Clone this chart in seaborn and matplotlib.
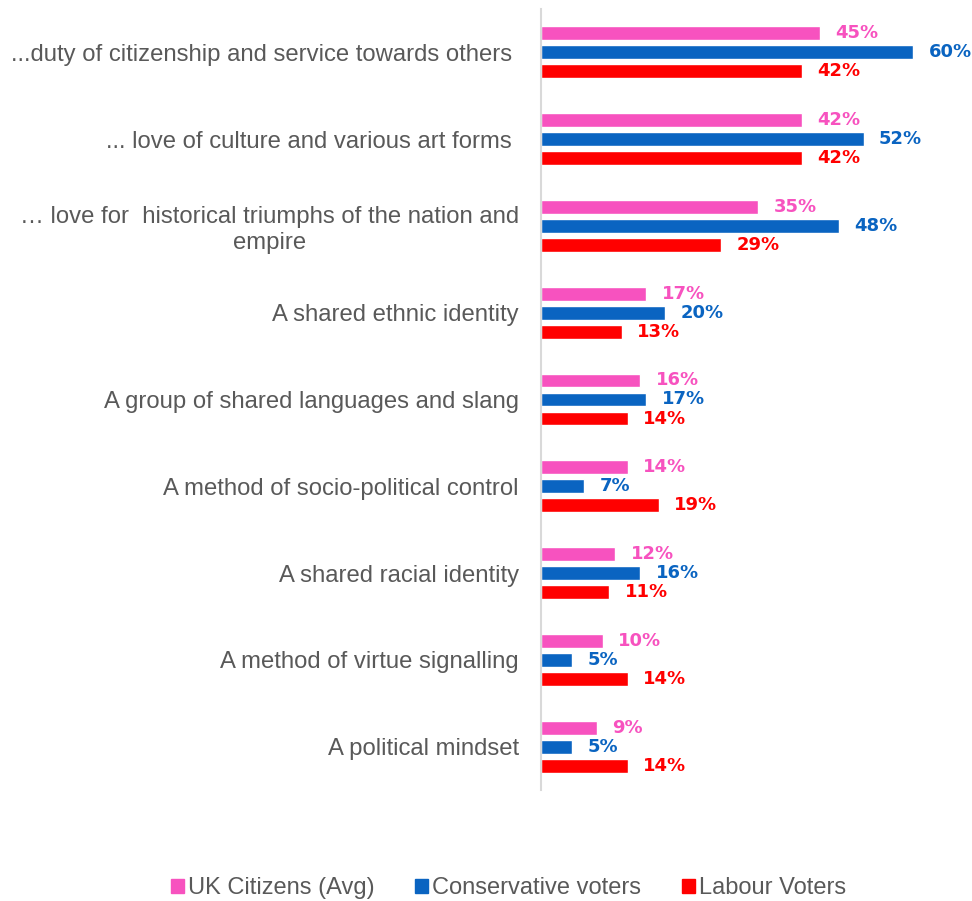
import matplotlib
matplotlib.use("Agg")
import matplotlib.pyplot as plt
import matplotlib.patches as mpatches
import seaborn as sns
import pandas as pd

categories = [
    "...duty of citizenship and service towards others ",
    "... love of culture and various art forms ",
    "\u2026 love for  historical triumphs of the nation and\nempire",
    "A shared ethnic identity",
    "A group of shared languages and slang",
    "A method of socio-political control",
    "A shared racial identity",
    "A method of virtue signalling",
    "A political mindset",
]
series_names = ["UK Citizens (Avg)", "Conservative voters", "Labour Voters"]
uk_avg = [45, 42, 35, 17, 16, 14, 12, 10, 9]
conservative = [60, 52, 48, 20, 17, 7, 16, 5, 5]
labour = [42, 42, 29, 13, 14, 19, 11, 14, 14]
colors = ["#F752BF", "#0A64C1", "#FF0000"]

rows = []
for name, vals in zip(series_names, [uk_avg, conservative, labour]):
    for cat, v in zip(categories, vals):
        rows.append({"category": cat, "series": name, "value": v})
df = pd.DataFrame(rows)

sns.set_style("white")
plt.rcParams["font.family"] = ["Liberation Sans", "DejaVu Sans"]

fig = plt.figure(figsize=(9.72, 9.01), dpi=100)
ax = fig.add_axes([541 / 972, 1 - 790 / 901, 428 / 972, 781 / 901])

sns.barplot(
    data=df, y="category", x="value", hue="series", order=categories,
    hue_order=series_names, palette=colors, orient="h", width=0.657,
    gap=0.27, saturation=1, legend=False, ax=ax, errorbar=None,
)

ax.set_xlim(0, 69)
ax.set_xlabel("")
ax.set_ylabel("")
ax.set_xticks([])
for side in ["top", "right", "bottom"]:
    ax.spines[side].set_visible(False)
ax.spines["left"].set_color("#D9D9D9")
ax.spines["left"].set_linewidth(1.5)

ax.tick_params(axis="y", length=0, pad=16)
for lbl in ax.get_yticklabels():
    lbl.set_fontsize(17.2)
    lbl.set_color("#595959")
    lbl.set_multialignment("center")

for cont, col in zip(ax.containers, colors):
    texts = ax.bar_label(
        cont, labels=[f"{v:.0f}%" for v in cont.datavalues], padding=11,
        color=col, fontsize=13, fontweight="bold", family="DejaVu Sans",
    )

# one legend entry per series, placed along the bottom edge
legend_x = [171, 415, 682]
for c, n, x in zip(colors, series_names, legend_x):
    leg = fig.legend(
        handles=[mpatches.Patch(color=c, label=n)], loc="center left",
        bbox_to_anchor=(x / 972, 1 - 888 / 901), frameon=False, fontsize=17,
        handlelength=0.56, handleheight=0.52, handletextpad=0.17,
        borderpad=0, borderaxespad=0,
    )
    for t in leg.get_texts():
        t.set_color("#595959")

fig.savefig("out.png", dpi=100)
